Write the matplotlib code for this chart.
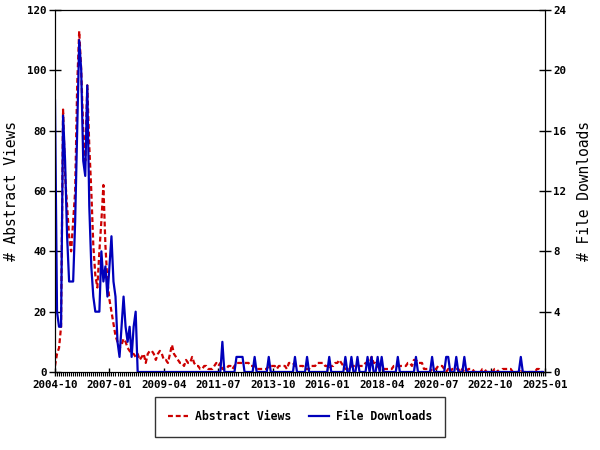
import numpy as np
import pandas as pd
import matplotlib
matplotlib.use("Agg")
import matplotlib.pyplot as plt

plt.rcParams['font.family'] = ['DejaVu Sans Mono']
plt.rcParams['font.weight'] = 'bold'

# monthly values, one row per year (2004 starts in October)
views_by_year = [
    [2, 6, 8],
    [15, 87, 65, 55, 45, 40, 50, 60, 95, 113, 100, 80],
    [70, 95, 75, 60, 42, 32, 28, 40, 50, 62, 42, 30],
    [24, 20, 16, 12, 10, 8, 9, 11, 10, 8, 7, 6],
    [6, 5, 6, 4, 5, 6, 3, 6, 7, 7, 6, 4],
    [6, 7, 6, 4, 4, 3, 6, 9, 6, 5, 4, 3],
    [3, 2, 4, 3, 3, 5, 3, 2, 2, 1, 1, 2],
    [2, 1, 1, 1, 2, 3, 2, 3, 1, 1, 1, 2],
    [2, 1, 2, 3, 3, 3, 3, 3, 3, 3, 2, 2],
    [2, 1, 1, 1, 1, 1, 1, 2, 2, 2, 2, 1],
    [2, 2, 2, 2, 1, 3, 3, 3, 2, 2, 2, 2],
    [2, 1, 1, 1, 2, 2, 2, 3, 3, 3, 3, 2],
    [2, 1, 2, 2, 3, 3, 4, 3, 2, 1, 1, 1],
    [2, 2, 2, 2, 2, 2, 2, 3, 3, 3, 5, 3],
    [3, 2, 1, 1, 1, 1, 1, 1, 1, 2, 2, 2],
    [2, 2, 2, 2, 3, 3, 2, 4, 4, 3, 3, 3],
    [1, 1, 1, 0, 1, 1, 1, 2, 2, 2, 1, 0],
    [1, 0, 1, 1, 1, 1, 0, 1, 0, 0, 1, 1],
    [1, 0, 0, 0, 0, 1, 1, 0, 0, 0, 0, 1],
    [1, 0, 0, 1, 1, 1, 1, 1, 0, 0, 0, 0],
    [1, 0, 0, 0, 0, 0, 0, 0, 1, 1, 0, 0],
]

downloads_by_year = [
    [18, 4, 3],
    [3, 17, 14, 9, 6, 6, 6, 10, 16, 22, 20, 14],
    [13, 19, 11, 7, 5, 4, 4, 4, 8, 6, 7, 5],
    [7, 9, 6, 5, 2, 1, 3, 5, 3, 2, 3, 1],
    [3, 4, 0, 0, 0, 0, 0, 0, 0, 0, 0, 0],
    [0, 0, 0, 0, 0, 0, 0, 0, 0, 0, 0, 0],
    [0, 0, 0, 0, 0, 0, 0, 0, 0, 0, 0, 0],
    [0, 0, 0, 0, 0, 0, 0, 0, 2, 0, 0, 0],
    [0, 0, 0, 1, 1, 1, 1, 0, 0, 0, 0, 0],
    [1, 0, 0, 0, 0, 0, 0, 1, 0, 0, 0, 0],
    [0, 0, 0, 0, 0, 0, 0, 0, 1, 0, 0, 0],
    [0, 0, 1, 0, 0, 0, 0, 0, 0, 0, 0, 0],
    [0, 1, 0, 0, 0, 0, 0, 0, 0, 1, 0, 0],
    [1, 0, 0, 1, 0, 0, 0, 0, 1, 0, 1, 0],
    [0, 1, 0, 1, 0, 0, 0, 0, 0, 0, 0, 1],
    [0, 0, 0, 0, 0, 0, 0, 0, 1, 0, 0, 0],
    [0, 0, 0, 0, 1, 0, 0, 0, 0, 0, 0, 1],
    [1, 0, 0, 0, 1, 0, 0, 0, 1, 0, 0, 0],
    [0, 0, 0, 0, 0, 0, 0, 0, 0, 0, 0, 0],
    [0, 0, 0, 0, 0, 0, 0, 0, 0, 0, 0, 0],
    [1, 0, 0, 0, 0, 0, 0, 0, 0, 0, 0, 0],
]

tick_labels = ["2004-10", "2007-01", "2009-04", "2011-07", "2013-10",
               "2016-01", "2018-04", "2020-07", "2022-10", "2025-01"]

views = np.concatenate(views_by_year)
downloads = np.concatenate(downloads_by_year)
months = pd.period_range("2004-10", periods=len(views), freq="M")
x = np.arange(len(months))

red = "#cc0000"
blue = "#0000bb"

fig = plt.figure(figsize=(6, 4.5), dpi=100)
ax = fig.add_axes([55 / 600, 78 / 450, 490 / 600, 362 / 450])
ax2 = ax.twinx()

l1, = ax.plot(x, views, color=red, lw=1.6, ls=(0, (2.2, 1.3)), label="Abstract Views")
l2, = ax2.plot(x, downloads, color=blue, lw=1.6, label="File Downloads")

ax.set_xlim(0, 243)
ax.set_ylim(0, 120)
ax2.set_ylim(0, 24)
ax.set_xticks(np.arange(0, 244, 27))
ax.set_xticklabels(tick_labels)
ax.set_xticks(np.arange(0, 244, 1), minor=True)
ax.set_yticks(np.arange(0, 121, 20))
ax2.set_yticks(np.arange(0, 25, 4))

ax.tick_params(axis="x", which="major", direction="inout", length=6, width=1, labelsize=7.8, pad=3)
ax.tick_params(axis="x", which="minor", direction="out", length=3, width=0.8)
ax.tick_params(axis="y", direction="inout", length=8, width=1, labelsize=7.8, pad=2)
ax2.tick_params(axis="y", direction="inout", length=8, width=1, labelsize=7.8, pad=2)

ax.set_ylabel("# Abstract Views", fontsize=10.5, labelpad=6)
ax2.set_ylabel("# File Downloads", fontsize=10.5, labelpad=8)

leg = fig.legend(handles=[l1, l2], loc="center", bbox_to_anchor=(0.5, 1 - 417 / 450),
                 ncol=2, fontsize=8.3, frameon=True, fancybox=False,
                 edgecolor="black", handlelength=1.7, columnspacing=1.6,
                 borderpad=1.15, handletextpad=0.6)
leg.get_frame().set_linewidth(1.0)

fig.savefig("out.png", dpi=100)
